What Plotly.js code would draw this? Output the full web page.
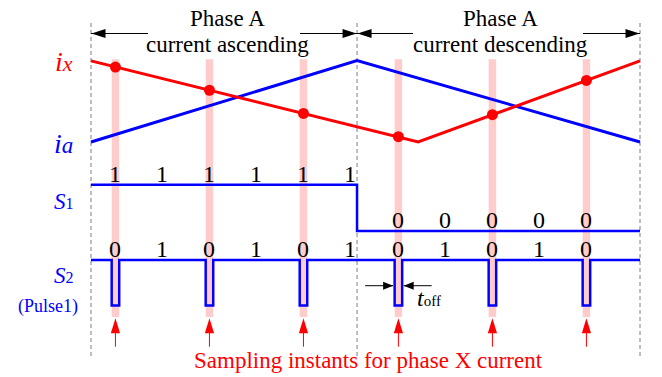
<!DOCTYPE html>
<html>
<head>
<meta charset="utf-8">
<script src="https://cdn.plot.ly/plotly-3.0.1.min.js"></script>
<style>
  html, body { margin: 0; padding: 0; background: #ffffff; }
  #chart { width: 662px; height: 377px; }
</style>
</head>
<body>
<div id="chart"></div>
<script>
// Time is measured in sampling periods (Ts).
const phaseBoundT = [0, 2.83, 5.84];              // phase-A ascending / descending boundaries
const sampleT = [0.26, 1.26, 2.26, 3.27, 4.27, 5.27]; // sampling instants for phase X current

// Phase A current (normalised)
const iaT = [0, 2.83, 5.84];
const iaVal = [-1, 1, -1];

// Phase X current (normalised) and its sampled values
const ixT = [0, 3.48, 5.84];
const ixVal = [0.99, -1, 0.99];
const ixSampled = [0.84, 0.27, -0.30, -0.87, -0.33, 0.51];

// Switch S1 state
const s1T = [0, 2.83, 5.84];
const s1Val = [1, 0, 0];

// Switch S2 (Pulse1) off-time around every sampling instant
const tOff = 0.08;

// Bit annotations written above the switch waveforms
const bitT = [0.26, 0.76, 1.26, 1.76, 2.26, 2.76, 3.27, 3.77, 4.27, 4.77, 5.27];
const s1Bits = ['1', '1', '1', '1', '1', '1', '0', '0', '0', '0', '0'];
const s2Bits = ['0', '1', '0', '1', '0', '1', '0', '1', '0', '1', '0'];

// Phase headers
const phaseTitle = ['Phase A', 'Phase A'];
const phaseSubtitle = ['current ascending', 'current descending'];
const phaseTitleT = [1.457, 4.351];
const phaseArrowTailT = [[0.606, 2.223], [3.426, 5.234]];

const FONT = 'Liberation Serif, Times New Roman, serif';
const RED = '#ff0000';
const BLUE = '#0000ff';

// S2 step waveform built from the sampling instants and the off-time
const s2X = [phaseBoundT[0]];
const s2Y = [1];
sampleT.forEach(t => {
  s2X.push(t - tOff / 2, t + tOff / 2);
  s2Y.push(0, 1);
});
s2X.push(phaseBoundT[phaseBoundT.length - 1]);
s2Y.push(1);

const traces = [
  { x: iaT, y: iaVal, mode: 'lines', line: { color: BLUE, width: 3 }, yaxis: 'y', hoverinfo: 'skip' },
  { x: ixT, y: ixVal, mode: 'lines', line: { color: RED, width: 3 }, yaxis: 'y', hoverinfo: 'skip' },
  { x: sampleT, y: ixSampled, mode: 'markers', marker: { color: RED, size: 11 }, yaxis: 'y', hoverinfo: 'skip' },
  { x: s1T, y: s1Val, mode: 'lines', line: { color: BLUE, width: 2.5, shape: 'hv' }, yaxis: 'y2', hoverinfo: 'skip' },
  { x: s2X, y: s2Y, mode: 'lines', line: { color: BLUE, width: 2.5, shape: 'hv' }, yaxis: 'y3', hoverinfo: 'skip' }
];

const shapes = [];

// dashed phase boundaries
phaseBoundT.forEach(t => shapes.push({
  type: 'line', xref: 'x', yref: 'paper', x0: t, x1: t, y0: 0.0557, y1: 0.9398,
  line: { color: '#7f7f7f', width: 1, dash: '4px,3px' }, layer: 'below'
}));

// highlight bands at the sampling instants
sampleT.forEach(t => shapes.push({
  type: 'rect', xref: 'x', xsizemode: 'pixel', xanchor: t, x0: -3.75, x1: 3.75,
  yref: 'paper', y0: 0.1592, y1: 0.8427,
  fillcolor: '#ffcccc', line: { width: 0 }, layer: 'below'
}));

// phase span arrows
const arrowY = 0.9111;
phaseArrowTailT.forEach((tails, i) => {
  const heads = [phaseBoundT[i], phaseBoundT[i + 1]];
  heads.forEach((h, k) => {
    const dir = k === 0 ? 1 : -1;
    shapes.push({
      type: 'line', xref: 'x', yref: 'paper', x0: h, x1: tails[k], y0: arrowY, y1: arrowY,
      line: { color: '#000000', width: 1 }
    });
    shapes.push({
      type: 'path', xref: 'x', xsizemode: 'pixel', xanchor: h,
      yref: 'paper', ysizemode: 'pixel', yanchor: arrowY,
      path: `M${0.5 * dir},0 L${14.5 * dir},4.5 L${14.5 * dir},-4.5 Z`,
      fillcolor: '#000000', line: { width: 0 }
    });
  });
});

// t_off dimension arrows around the 4th pulse
const offY = 0.435;
[[sampleT[3] - tOff / 2, -1], [sampleT[3] + tOff / 2, 1]].forEach(([edge, dir]) => {
  shapes.push({
    type: 'line', xref: 'x', xsizemode: 'pixel', xanchor: edge,
    x0: 29.5 * dir, x1: 1.5 * dir, yref: 'y3', y0: offY, y1: offY,
    line: { color: '#000000', width: 1 }
  });
  shapes.push({
    type: 'path', xref: 'x', xsizemode: 'pixel', xanchor: edge,
    yref: 'y3', ysizemode: 'pixel', yanchor: offY,
    path: `M${1.5 * dir},0 L${11.5 * dir},4 L${11.5 * dir},-4 Z`,
    fillcolor: '#000000', line: { width: 0 }
  });
});

// red arrows marking sampling instants
const sampArrowY = 0.1557;
sampleT.forEach(t => {
  shapes.push({
    type: 'line', xref: 'x', xsizemode: 'pixel', xanchor: t, x0: 0, x1: 0,
    yref: 'paper', ysizemode: 'pixel', yanchor: sampArrowY, y0: -14, y1: -28.4,
    line: { color: RED, width: 1 }
  });
  shapes.push({
    type: 'path', xref: 'x', xsizemode: 'pixel', xanchor: t,
    yref: 'paper', ysizemode: 'pixel', yanchor: sampArrowY,
    path: 'M0,0 L-4.6,-15 L4.6,-15 Z',
    fillcolor: RED, line: { width: 0 }
  });
});

const annotations = [];
function txt(o) {
  annotations.push(Object.assign({ showarrow: false, font: { family: FONT, size: 23, color: '#000000' } }, o));
}

// phase headers
phaseTitle.forEach((s, i) => {
  txt({ text: s, xref: 'x', x: phaseTitleT[i], yref: 'paper', y: 0.9517, xanchor: 'center', yanchor: 'middle' });
  txt({ text: phaseSubtitle[i], xref: 'x', x: phaseTitleT[i], yref: 'paper', y: 0.8814, xanchor: 'center', yanchor: 'middle' });
});

// signal names
txt({ text: '<i>i</i><span style="font-size:22px;font-style:italic">x</span>', xref: 'x', x: phaseBoundT[0], xanchor: 'right', xshift: -16,
  yref: 'y', y: ixVal[0], yanchor: 'middle', yshift: -1, font: { family: FONT, size: 28, color: RED } });
txt({ text: '<i>i</i><span style="font-size:23px;font-style:italic">a</span>', xref: 'x', x: phaseBoundT[0], xanchor: 'right', xshift: -16,
  yref: 'y', y: iaVal[0], yanchor: 'middle', yshift: -1, font: { family: FONT, size: 28, color: BLUE } });
txt({ text: '<i>S</i><span style="font-size:16px">1</span>', xref: 'x', x: phaseBoundT[0], xanchor: 'right', xshift: -15,
  yref: 'y2', y: 0.5, yanchor: 'middle', yshift: 6.6, font: { family: FONT, size: 23, color: BLUE } });
txt({ text: '<i>S</i><span style="font-size:16px">2</span>', xref: 'x', x: phaseBoundT[0], xanchor: 'right', xshift: -15,
  yref: 'y3', y: 0.5, yanchor: 'middle', yshift: 7.5, font: { family: FONT, size: 23, color: BLUE } });
txt({ text: '(Pulse1)', xref: 'x', x: phaseBoundT[0], xanchor: 'right', xshift: -11,
  yref: 'y3', y: 0, yanchor: 'middle', yshift: -1, font: { family: FONT, size: 18, color: BLUE } });

// bit values
bitT.forEach((t, i) => {
  txt({ text: s1Bits[i], xref: 'x', x: t, yref: 'y2', y: Number(s1Bits[i]), yanchor: 'middle', yshift: 11, font: { family: FONT, size: 24, color: '#000000' } });
  txt({ text: s2Bits[i], xref: 'x', x: t, yref: 'y3', y: 1, yanchor: 'middle', yshift: 11.5, font: { family: FONT, size: 24, color: '#000000' } });
});

// t_off label
txt({ text: '<i>t</i><span style="font-size:15px">off</span>', xref: 'x', x: sampleT[3] + tOff / 2, xanchor: 'left', xshift: 13,
  yref: 'y3', y: 0, yanchor: 'middle', yshift: 7.5, font: { family: FONT, size: 24, color: '#000000' } });

// caption
txt({ text: 'Sampling instants for phase X current', xref: 'paper', x: 0.557, xanchor: 'center',
  yref: 'paper', y: 0.0446, yanchor: 'middle', font: { family: FONT, size: 23, color: RED } });

const axisOff = { visible: false, showgrid: false, zeroline: false, fixedrange: true };

const layout = {
  width: 662, height: 377,
  margin: { l: 0, r: 0, t: 0, b: 0, pad: 0 },
  paper_bgcolor: '#ffffff', plot_bgcolor: '#ffffff',
  showlegend: false,
  xaxis: Object.assign({ range: [-0.968, 6.074] }, axisOff),
  yaxis: Object.assign({ domain: [0.60172, 0.86114], range: [-1.2, 1.2] }, axisOff),
  yaxis2: Object.assign({ domain: [0.36271, 0.53464], range: [-0.2, 1.2] }, axisOff),
  yaxis3: Object.assign({ domain: [0.16552, 0.33448], range: [-0.2, 1.2] }, axisOff),
  shapes: shapes,
  annotations: annotations
};

Plotly.newPlot('chart', traces, layout, { displayModeBar: false, staticPlot: true });
</script>
</body>
</html>
